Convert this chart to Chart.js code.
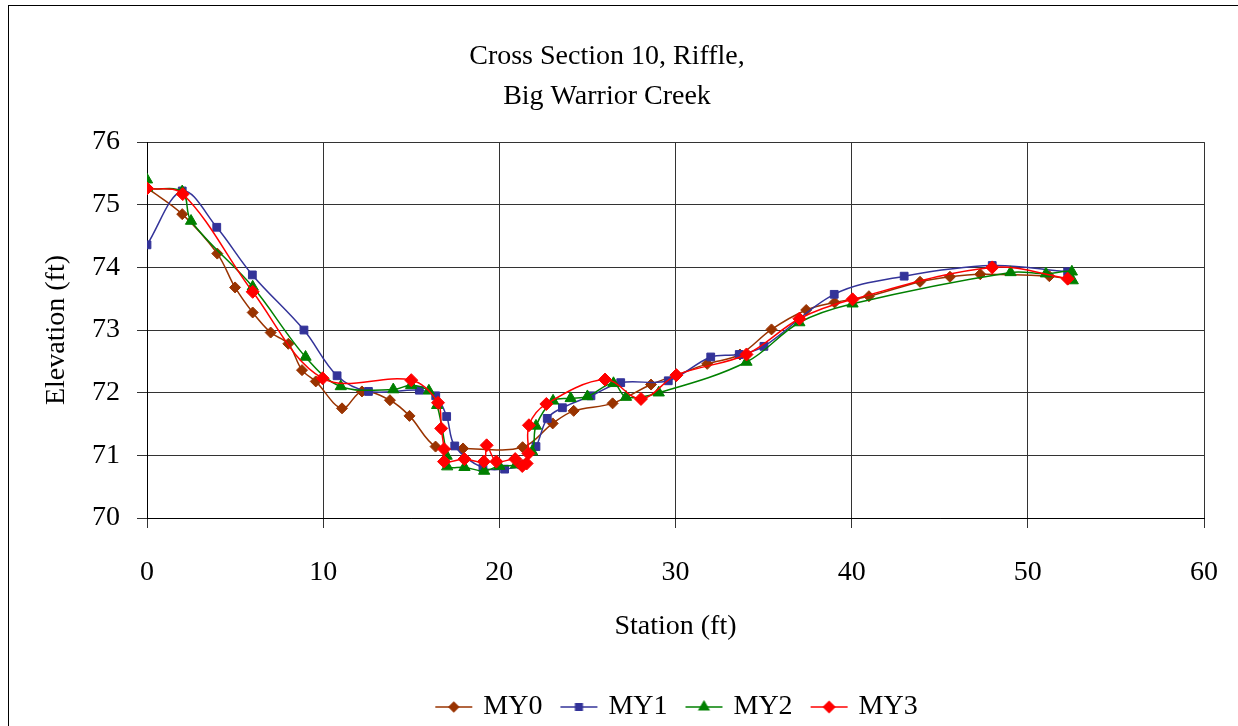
<!DOCTYPE html>
<html>
<head>
<meta charset="utf-8">
<title>Cross Section 10, Riffle, Big Warrior Creek</title>
<script src="https://cdn.jsdelivr.net/npm/chart.js@4.4.1/dist/chart.umd.min.js"></script>
<style>
    html, body { margin: 0; padding: 0; background: #fff; overflow: hidden; }
    #wrap { position: relative; width: 1238px; height: 726px; }
</style>
</head>
<body>
<div id="wrap"><canvas id="xsChart" width="1238" height="726"></canvas></div>
<script>
// survey data (station ft, elevation ft)
const seriesNames = ["MY0", "MY1", "MY2", "MY3"];

const my0Station = [0, 2, 3.99, 5, 6, 7.02, 8.02, 8.8, 9.58, 11.07, 12.2, 13.79, 14.9, 16.38, 17.94, 21.32, 23.03, 24.22, 26.43, 28.61, 30.05, 31.8, 33.66, 35.45, 37.42, 39.03, 40.98, 43.88, 45.58, 47.3, 51.22, 52.3];
const my0Elev = [75.27, 74.85, 74.22, 73.68, 73.28, 72.96, 72.78, 72.36, 72.18, 71.75, 72.02, 71.88, 71.63, 71.14, 71.11, 71.13, 71.51, 71.71, 71.83, 72.13, 72.28, 72.46, 72.61, 73.01, 73.32, 73.44, 73.54, 73.77, 73.85, 73.89, 73.86, 73.82];

const my1Station = [0, 2, 3.96, 5.98, 8.91, 10.79, 12.57, 15.46, 16.39, 17.01, 17.47, 19.07, 20.3, 21.27, 22.08, 22.72, 23.58, 25.2, 26.89, 29.59, 32.0, 33.62, 35.02, 39.01, 42.98, 47.98, 52.26];
const my1Elev = [74.36, 75.22, 74.64, 73.88, 73.0, 72.27, 72.02, 72.04, 71.95, 71.62, 71.15, 70.8, 70.78, 70.85, 71.14, 71.59, 71.76, 71.95, 72.16, 72.19, 72.57, 72.61, 72.74, 73.57, 73.86, 74.03, 73.93];

const my2Station = [0, 0, 2, 2.5, 6, 9, 11, 13.98, 14.99, 16, 16.47, 17.01, 17.04, 18.02, 19.14, 20.0, 20.95, 21.86, 22.08, 23.05, 24.05, 25.0, 26.48, 27.19, 29.05, 34.03, 37.03, 40.05, 49.02, 51.03, 52.5, 52.55];
const my2Elev = [75.4, 75.27, 75.21, 74.74, 73.69, 72.57, 72.1, 72.05, 72.12, 72.03, 71.8, 70.99, 70.82, 70.81, 70.75, 70.83, 70.85, 71.06, 71.47, 71.87, 71.91, 71.94, 72.15, 71.93, 72.0, 72.49, 73.12, 73.42, 73.92, 73.9, 73.93, 73.79];

const my3Station = [0, 2.03, 6, 9.97, 15.0, 16.52, 16.7, 16.86, 16.86, 18.02, 19.12, 19.28, 19.83, 20.9, 21.3, 21.55, 21.65, 21.68, 22.67, 26.0, 28.04, 30.05, 34.03, 37.03, 40.05, 47.98, 52.26];
const my3Elev = [75.26, 75.17, 73.61, 72.23, 72.2, 71.84, 71.43, 71.1, 70.9, 70.94, 70.9, 71.16, 70.9, 70.94, 70.83, 70.87, 71.03, 71.48, 71.82, 72.21, 71.9, 72.28, 72.61, 73.18, 73.49, 74.0, 73.82];

const xTicks = [0, 10, 20, 30, 40, 50, 60];
const yTicks = [70, 71, 72, 73, 74, 75, 76];

const FONT = "'Liberation Serif', 'Times New Roman', serif";
const FONT_SIZE = 28;
const PLOT_BOTTOM = 518;

function toPoints(xs, ys) {
    return xs.map(function (x, i) { return {x: x, y: ys[i]}; });
}

// legend swatch: short line with the marker in the middle, like Excel.
// The image is wider than the legend box so the line can sit close to the text.
function legendIcon(color, style, radius) {
    const c = document.createElement("canvas");
    c.width = 64;
    c.height = 16;
    const g = c.getContext("2d");
    g.strokeStyle = color;
    g.fillStyle = color;
    g.lineWidth = 1.5;
    g.beginPath();
    g.moveTo(12, 8);
    g.lineTo(49, 8);
    g.stroke();
    Chart.helpers.drawPoint(g, {pointStyle: style, radius: radius, rotation: 0, borderWidth: 1}, 30.5, 8);
    return c;
}

// later series sit on top of earlier ones
const styles = [
    {color: "#993300", point: "rectRot", radius: 5.5, order: 3},
    {color: "#333399", point: "rect", radius: 5.5, order: 2},
    {color: "#008000", point: "triangle", radius: 6.5, order: 1},
    {color: "#ff0000", point: "rectRot", radius: 6.5, order: 0}
];

const seriesData = [
    toPoints(my0Station, my0Elev),
    toPoints(my1Station, my1Elev),
    toPoints(my2Station, my2Elev),
    toPoints(my3Station, my3Elev)
];

const frame = {
    id: "frame",
    afterLayout: function (chart) {
        // Excel centres the legend under the plot area, not the whole chart
        const lg = chart.legend;
        if (!lg) return;
        const shift = (chart.chartArea.left + chart.chartArea.right) / 2 - (lg.left + lg.right) / 2 + 4;
        lg.left += shift;
        lg.right += shift;
        lg.top += 5;
        lg.bottom += 5;
    },
    afterDraw: function (chart) {
        const ctx = chart.ctx;
        ctx.save();
        ctx.strokeStyle = "#000";
        ctx.lineWidth = 1;
        ctx.strokeRect(8.5, 5.5, 1260, 760);
        ctx.restore();
    }
};

const legendIcons = styles.map(function (s) { return legendIcon(s.color, s.point, s.radius * 0.85); });

new Chart(document.getElementById("xsChart"), {
    type: "scatter",
    data: {
        datasets: seriesNames.map(function (name, i) {
            return {
                label: name,
                data: seriesData[i],
                showLine: true,
                tension: 0.35,
                borderColor: styles[i].color,
                backgroundColor: styles[i].color,
                borderWidth: 1.5,
                pointStyle: styles[i].point,
                pointRadius: styles[i].radius,
                pointHoverRadius: styles[i].radius,
                pointBorderWidth: 1,
                order: styles[i].order
            };
        })
    },
    options: {
        responsive: false,
        animation: false,
        layout: {padding: {left: 10, right: 34, top: 0, bottom: 0}},
        plugins: {
            title: {
                display: true,
                text: ["Cross Section 10, Riffle,", "Big Warrior Creek"],
                color: "#000",
                font: {family: FONT, size: FONT_SIZE, weight: "normal", lineHeight: 1.43},
                padding: {top: 37, bottom: 25}
            },
            legend: {
                position: "bottom",
                labels: {
                    color: "#000",
                    font: {family: FONT, size: FONT_SIZE},
                    usePointStyle: true,
                    pointStyleWidth: 28,
                    padding: 24,
                    generateLabels: function (chart) {
                        const items = Chart.defaults.plugins.legend.labels.generateLabels(chart);
                        items.sort(function (a, b) { return a.datasetIndex - b.datasetIndex; });
                        items.forEach(function (item) { item.pointStyle = legendIcons[item.datasetIndex]; });
                        return items;
                    }
                }
            },
            tooltip: {enabled: false}
        },
        scales: {
            x: {
                type: "linear",
                min: 0,
                max: 60,
                afterBuildTicks: function (scale) {
                    scale.ticks = xTicks.map(function (v) { return {value: v}; });
                },
                afterFit: function (scale) {
                    const legendH = scale.chart.legend ? scale.chart.legend.height : 0;
                    scale.height = scale.chart.height - PLOT_BOTTOM - legendH;
                },
                grid: {color: "#333", lineWidth: 1, tickLength: 10},
                border: {color: "#000", width: 1},
                // tall line height pushes the labels down without widening the right padding
                ticks: {color: "#000", font: {family: FONT, size: FONT_SIZE, lineHeight: 3.06}, padding: 2, maxRotation: 0},
                title: {
                    display: true,
                    text: "Station (ft)",
                    color: "#000",
                    font: {family: FONT, size: FONT_SIZE},
                    padding: {top: 0, bottom: 21}
                }
            },
            y: {
                type: "linear",
                min: 70,
                max: 76,
                afterBuildTicks: function (scale) {
                    scale.ticks = yTicks.map(function (v) { return {value: v}; });
                },
                afterFit: function (scale) {
                    scale.width = 137;
                },
                grid: {color: "#333", lineWidth: 1, tickLength: 10},
                border: {color: "#000", width: 1},
                ticks: {color: "#000", font: {family: FONT, size: FONT_SIZE}, padding: 17},
                title: {
                    display: true,
                    text: "Elevation (ft)",
                    color: "#000",
                    font: {family: FONT, size: FONT_SIZE},
                    padding: {top: 30, bottom: 0}
                }
            }
        }
    },
    plugins: [frame]
});
</script>
</body>
</html>
